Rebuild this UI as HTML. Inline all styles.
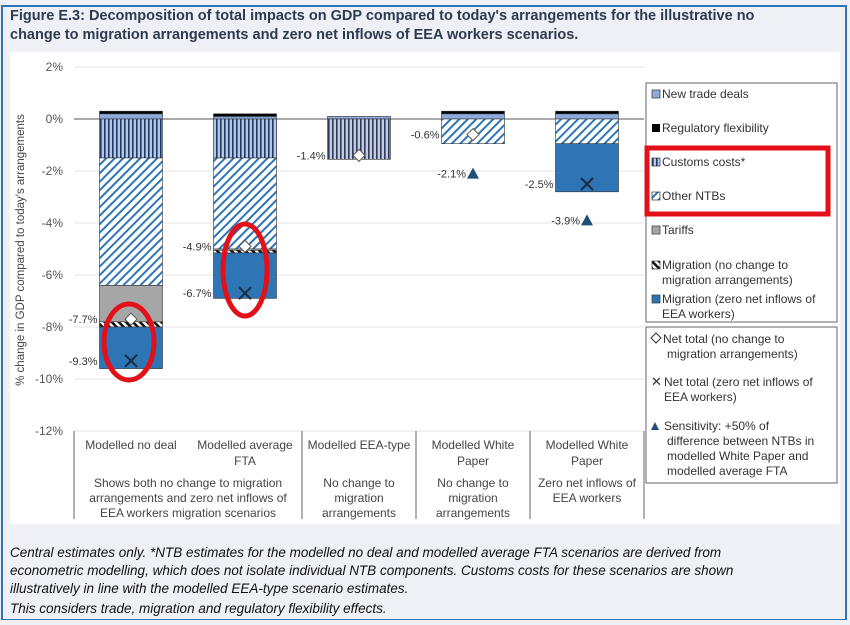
<!DOCTYPE html>
<html><head><meta charset="utf-8"><style>
body{margin:0;width:850px;height:620px;overflow:hidden;background:#eef0f6;font-family:"Liberation Sans",sans-serif;}
</style></head><body>
<svg width="850" height="620" xmlns="http://www.w3.org/2000/svg" id="svg">
<defs>
<pattern id="pCust" width="4" height="4" patternUnits="userSpaceOnUse"><rect width="4" height="4" fill="#b4c7e7"/><rect width="1.6" height="4" fill="#1f3864"/></pattern>
<pattern id="pCustG" width="4" height="4" patternUnits="userSpaceOnUse"><rect width="4" height="4" fill="#c5cbd8"/><rect width="1.6" height="4" fill="#2b3a5e"/></pattern>
<pattern id="pNTB" width="6" height="6" patternUnits="userSpaceOnUse" patternTransform="rotate(45)"><rect width="6" height="6" fill="#fff"/><rect width="2" height="6" fill="#2e75b6"/></pattern>
<pattern id="pMig" width="5" height="5" patternUnits="userSpaceOnUse" patternTransform="rotate(-45)"><rect width="5" height="5" fill="#fff"/><rect width="2.5" height="5" fill="#111"/></pattern>
</defs>
<rect x="2" y="6" width="844" height="614" fill="#eef0f6" stroke="#2e75b6" stroke-width="2"/>
<text x="10" y="20" font-size="14.5" font-weight="bold" fill="#2d3a4f">Figure E.3: Decomposition of total impacts on GDP compared to today's arrangements for the illustrative no</text>
<text x="10" y="39" font-size="14.5" font-weight="bold" fill="#2d3a4f">change to migration arrangements and zero net inflows of EEA workers scenarios.</text>
<rect x="10" y="52" width="830" height="472" fill="#fff"/>
<g id="grid"></g>
<g id="bars"></g>
<g id="marks"></g>
<text transform="translate(24,250) rotate(-90)" text-anchor="middle" font-size="11.5" fill="#444">% change in GDP compared to today's arrangements</text>
<g id="cats" font-size="12" fill="#444" text-anchor="middle">
<text x="131" y="449">Modelled no deal</text>
<text x="245" y="449">Modelled average</text>
<text x="245" y="465">FTA</text>
<text x="359" y="449">Modelled EEA-type</text>
<text x="473" y="449">Modelled White</text>
<text x="473" y="465">Paper</text>
<text x="587" y="449">Modelled White</text>
<text x="587" y="465">Paper</text>
<text x="188" y="487">Shows both no change to migration</text>
<text x="188" y="502">arrangements and zero net inflows of</text>
<text x="188" y="517">EEA workers migration scenarios</text>
<text x="359" y="487">No change to</text>
<text x="359" y="502">migration</text>
<text x="359" y="517">arrangements</text>
<text x="473" y="487">No change to</text>
<text x="473" y="502">migration</text>
<text x="473" y="517">arrangements</text>
<text x="587" y="487">Zero net inflows of</text>
<text x="587" y="502">EEA workers</text>
</g>
<g stroke="#666" stroke-width="1">
<line x1="74" y1="431" x2="74" y2="519"/><line x1="302" y1="431" x2="302" y2="519"/><line x1="416" y1="431" x2="416" y2="519"/><line x1="530" y1="431" x2="530" y2="519"/><line x1="644" y1="431" x2="644" y2="519"/>
</g>
<g font-size="12" fill="#333">
<rect x="646" y="83" width="191" height="239" fill="#fff" stroke="#666"/>
<rect x="652" y="90" width="8" height="8" fill="#8eaadb" stroke="#333" stroke-width="0.7"/><text x="662" y="98">New trade deals</text>
<rect x="652" y="124" width="8" height="8" fill="#000"/><text x="662" y="132">Regulatory flexibility</text>
<rect x="652" y="158" width="8" height="8" fill="url(#pCust)" stroke="#333" stroke-width="0.7"/><text x="662" y="166">Customs costs*</text>
<rect x="652" y="192" width="8" height="8" fill="url(#pNTB)" stroke="#333" stroke-width="0.7"/><text x="662" y="200">Other NTBs</text>
<rect x="652" y="226" width="8" height="8" fill="#a6a6a6" stroke="#333" stroke-width="0.7"/><text x="662" y="234">Tariffs</text>
<rect x="652" y="261" width="8" height="8" fill="url(#pMig)" stroke="#333" stroke-width="0.7"/><text x="662" y="269">Migration (no change to</text><text x="662" y="284">migration arrangements)</text>
<rect x="652" y="295" width="8" height="8" fill="#2e75b6" stroke="#333" stroke-width="0.7"/><text x="662" y="303">Migration (zero net inflows of</text><text x="662" y="318">EEA workers)</text>
</g>
<g font-size="12" fill="#333">
<rect x="646" y="327" width="191" height="156" fill="#fff" stroke="#666"/>
<path d="M656 333 l5 5 l-5 5 l-5 -5 z" fill="#fff" stroke="#333"/><text x="663" y="343">Net total (no change to</text><text x="667" y="358">migration arrangements)</text>
<text x="651" y="386" font-size="13">✕</text><text x="664" y="386">Net total (zero net inflows of</text><text x="664" y="401">EEA workers)</text>
<path d="M651 430 l4 -8 l4 8 z" fill="#1f4e79"/><text x="664" y="430">Sensitivity: +50% of</text><text x="667" y="445">difference between NTBs in</text><text x="667" y="460">modelled White Paper and</text><text x="667" y="475">modelled average FTA</text>
</g>
<g font-size="13.5" font-style="italic" fill="#111">
<text x="10" y="557">Central estimates only. *NTB estimates for the modelled no deal and modelled average FTA scenarios are derived from</text>
<text x="10" y="575">econometric modelling, which does not isolate individual NTB components. Customs costs for these scenarios are shown</text>
<text x="10" y="593">illustratively in line with the modelled EEA-type scenario estimates.</text>
<text x="10" y="613">This considers trade, migration and regulatory flexibility effects.</text>
</g>
<g fill="none" stroke="#e3101a" stroke-width="5">
<ellipse cx="129" cy="342" rx="25" ry="38"/>
<ellipse cx="245" cy="270" rx="22" ry="46"/>
<rect x="647" y="148" width="181" height="66"/>
</g>
</svg>
<script>
const categories=["Modelled no deal","Modelled average FTA","Modelled EEA-type","Modelled White Paper (no change)","Modelled White Paper (zero inflows)"];
const yTicks=[2,0,-2,-4,-6,-8,-10,-12];
const newTrade=[0.2,0.1,0.1,0.2,0.2];
const regFlex=[0.1,0.1,0,0.1,0.1];
const customs=[-1.5,-1.5,-1.55,0,0];
const otherNTB=[-4.9,-3.5,0,-0.95,-0.95];
const tariffs=[-1.4,-0.05,0,0,0];
const migNoChange=[-0.2,-0.1,0,0,0];
const migZero=[-1.6,-1.75,0,0,-1.85];
const netNoChange=[-7.7,-4.9,-1.4,-0.6,null];
const netZero=[-9.3,-6.7,null,null,-2.5];
const sensitivity=[null,null,null,-2.1,-3.9];
const NS="http://www.w3.org/2000/svg";
const y=v=>119-v*26;
const bandX=i=>74+i*114;
const cx=i=>bandX(i)+57;
const BW=63;
function mk(tag,attrs,parent){const e=document.createElementNS(NS,tag);for(const k in attrs)e.setAttribute(k,attrs[k]);parent.appendChild(e);return e;}
const grid=document.getElementById('grid');
yTicks.forEach(t=>{
 const l=mk('line',{x1:74,x2:644,y1:y(t),y2:y(t),stroke:t===0?'#555':'#e3e3e3','stroke-width':1},grid);
 
 
 const tx=mk('text',{x:63,y:y(t)+4,'text-anchor':'end','font-size':12,fill:'#555'},grid);
 tx.textContent=t+'%';
 
 
});
const bars=document.getElementById('bars');
categories.forEach((c,i)=>{
 const x0=cx(i)-BW/2;
 let pos=0,neg=0;
 const seg=(v,fill,name)=>{
  if(!v)return;
  let a,b;
  if(v>0){a=pos;b=pos+v;pos=b;}else{a=neg;b=neg+v;neg=b;}
  const r=mk('rect',{x:x0,y:Math.min(y(a),y(b)),width:BW,height:Math.abs(y(a)-y(b)),fill:fill,stroke:'#333','stroke-width':0.6},bars);
  
  
 };
 seg(newTrade[i],'#8eaadb','bar-new-trade-deals');
 seg(regFlex[i],'#000','bar-regulatory-flexibility');
 seg(customs[i],i===2?'url(#pCustG)':'url(#pCust)','bar-customs-costs');
 seg(otherNTB[i],'url(#pNTB)','bar-other-ntbs');
 seg(tariffs[i],'#a6a6a6','bar-tariffs');
 seg(migNoChange[i],'url(#pMig)','bar-migration-no-change');
 seg(migZero[i],'#2e75b6','bar-migration-zero');
});
const marks=document.getElementById('marks');
const label=(x,v,name)=>{const t=mk('text',{x:x,y:y(v)+4,'text-anchor':'end','font-size':11,fill:'#333'},marks);t.textContent=v.toFixed(1)+'%';};
categories.forEach((c,i)=>{
 const x=cx(i);
 if(netNoChange[i]!==null){
  const v=netNoChange[i];
  const d=mk('path',{d:`M${x} ${y(v)-6} l6 6 l-6 6 l-6 -6 z`,fill:'#fff',stroke:'#555'},marks);
  
  
  label(x-BW/2-2,v,'net-total-no-change-label');
 }
 if(netZero[i]!==null){
  const v=netZero[i];
  const p=mk('path',{d:`M${x-6} ${y(v)-6} l12 12 M${x+6} ${y(v)-6} l-12 12`,stroke:'#1a2a40','stroke-width':2},marks);
  
  
  label(x-BW/2-2,v,'net-total-zero-label');
 }
 if(sensitivity[i]!==null){
  const v=sensitivity[i];
  const p=mk('path',{d:`M${x-6} ${y(v)+5} l6 -11 l6 11 z`,fill:'#1f4e79'},marks);
  
  
  label(x-7,v,'sensitivity-label');
 }
});
</script>
</body></html>
